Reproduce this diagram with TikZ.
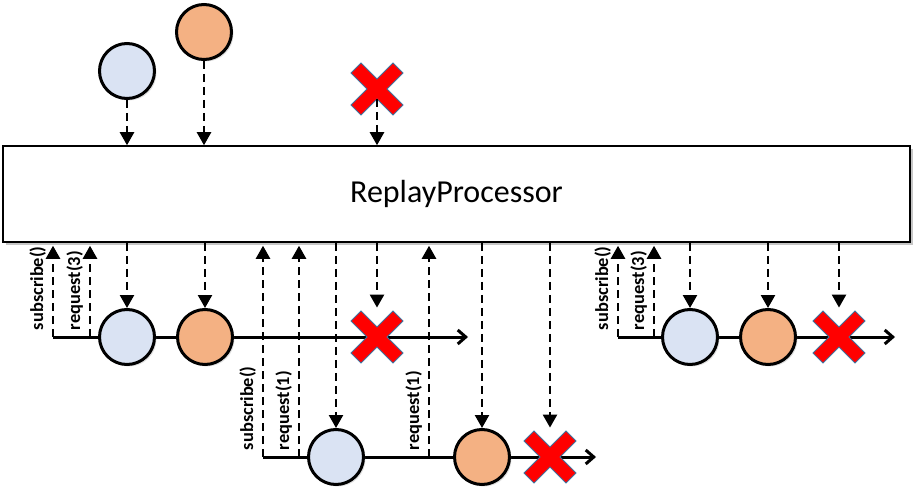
\documentclass[tikz,border=0pt]{standalone}
\usepackage{fontspec}
\setmainfont{Carlito}
\usetikzlibrary{arrows.meta,shadows,positioning}
\definecolor{dotblue}{HTML}{DAE3F3}
\definecolor{dotorange}{HTML}{F4B183}
\definecolor{crossred}{HTML}{FF0000}
\definecolor{crossedge}{HTML}{41719C}

\begin{document}
\begin{tikzpicture}[x=0.5pt, y=-0.5pt,
        flow/.style={line width=1.2pt, dash pattern=on 4pt off 2.5pt,
                -{Triangle[length=6.5pt,width=7pt]}},
        timeline/.style={line width=1.5pt, -{Straight Barb[length=4pt,width=7pt]}},
        dot/.style={circle, draw, line width=1.5pt, minimum size=27.5pt, inner sep=0pt,
                drop shadow={shadow xshift=1pt, shadow yshift=-1pt, opacity=0.25}},
        cross/.style={minimum size=29pt, inner sep=0pt,
                path picture={\filldraw[fill=crossred, draw=crossedge, line width=0.5pt,
                        shift={(path picture bounding box.center)}]
                    (-13pt,-8pt) -- (-8pt,-13pt) -- (0pt,-5pt) -- (8pt,-13pt) -- (13pt,-8pt)
                    -- (5pt,0pt) -- (13pt,8pt) -- (8pt,13pt) -- (0pt,5pt) -- (-8pt,13pt)
                    -- (-13pt,8pt) -- (-5pt,0pt) -- cycle;}},
        lbl/.style={rotate=90, anchor=south west, inner sep=1pt, outer sep=2.5pt,
                font=\bfseries\fontsize{9.2}{11}\selectfont}]

    \useasboundingbox (0,0) rectangle (920,497);

    \node[draw, line width=0.75pt, fill=white, minimum width=453.5pt, minimum height=48pt,
        font=\fontsize{16}{19}\selectfont,
        drop shadow={shadow xshift=1.5pt, shadow yshift=-1.5pt, opacity=0.45}]
        (proc) at (456.5,194) {ReplayProcessor};

    % incoming signals
    \node[dot, fill=dotblue] (tb) at (127,71) {};
    \node[dot, fill=dotorange] (to) at (204,32) {};
    \node[cross] (tx) at (377,89) {};

    \foreach \n in {tb,to}
    \draw[flow] (\n.south) -- (\n |- proc.north);
    \draw[flow, shorten <=5pt] (tx.center) -- (tx |- proc.north);

    % subscribers
    \foreach \i/\a/\b/\y in {1/53/468/337, 2/263/596/457, 3/618/895/337} {
            \coordinate (start\i) at (\a,\y);
            \coordinate (end\i) at (\b,\y);
            \draw[timeline] (start\i) -- (end\i);
        }

    \foreach \n/\x/\y/\c in {b1/127/337/dotblue, o1/205/337/dotorange,
            b2/336/457/dotblue, o2/482/457/dotorange,
            b3/690/337/dotblue, o3/768/337/dotorange}
    \node[dot, fill=\c] (\n) at (\x,\y) {};

    \foreach \n/\x/\y in {x1/377/337, x2/550/457, x3/839/337}
    \node[cross] (\n) at (\x,\y) {};

    \foreach \x/\y/\t [count=\i] in {53/337/subscribe(), 90/337/request(3),
            263/457/subscribe(), 299/457/request(1), 429/457/request(1),
            618/337/subscribe(), 654/337/request(3)} {
            \coordinate (req\i) at (\x,\y);
            \draw[flow, shorten >=1.5pt] (req\i) -- (req\i |- proc.south) node[lbl, at start] {\t};
        }

    \foreach \n in {b1,o1,x1,b2,o2,x2,b3,o3,x3}
    \draw[flow] (\n |- proc.south) -- (\n.north);
\end{tikzpicture}
\end{document}
